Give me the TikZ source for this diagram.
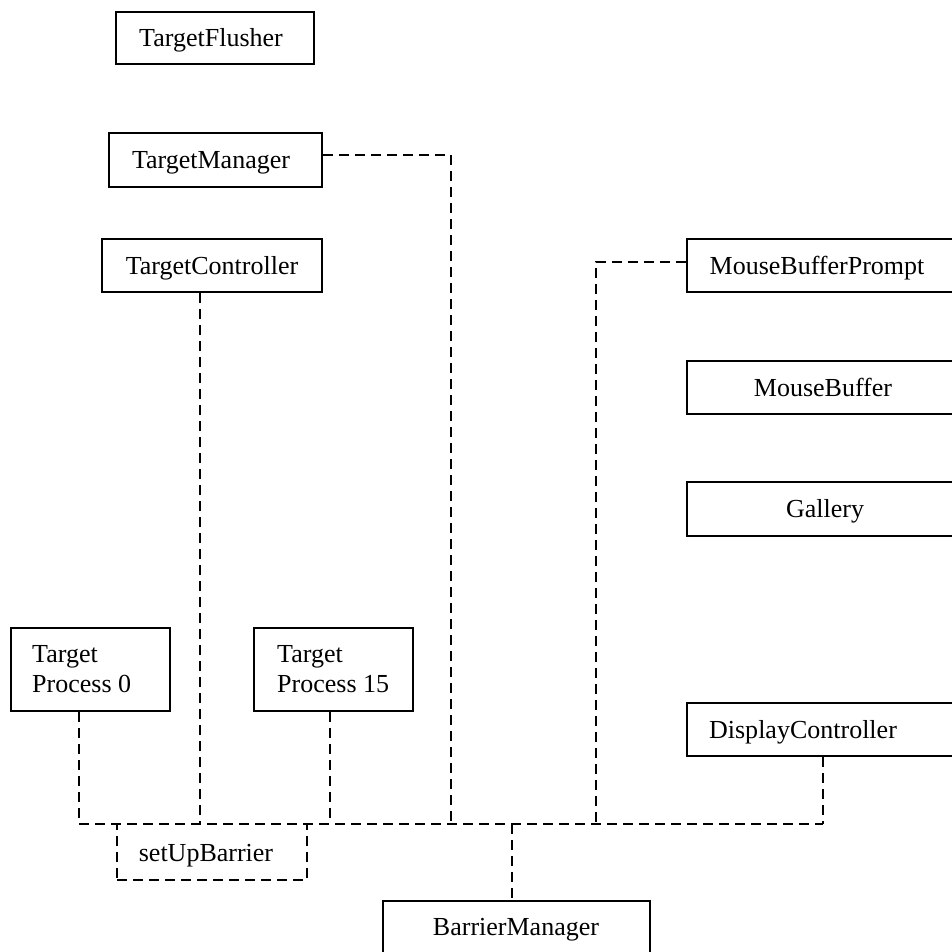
\documentclass[tikz,border=0pt]{standalone}
\usepackage{fontspec}
\setmainfont{Liberation Serif}
\begin{document}
\begin{tikzpicture}[x=1pt,y=-1pt,
  box/.style={draw=black,line width=2pt,inner sep=0pt,fill=none},
  dbox/.style={draw=black,line width=2pt,inner sep=0pt,dash pattern=on 10pt off 6pt},
  lbl/.style={anchor=base,inner sep=0pt,font=\fontsize{26}{30}\selectfont},
  lbll/.style={anchor=base west,inner sep=0pt,font=\fontsize{26}{30}\selectfont},
  conn/.style={draw=black,line width=2pt,dash pattern=on 10pt off 6pt}]
\useasboundingbox (0,0) rectangle (952,952);
% boxes
\node[box,minimum width=198pt,minimum height=52pt] (tf) at (215,38) {};
\node[box,minimum width=213pt,minimum height=54pt] (tm) at (215.5,160) {};
\node[box,minimum width=220pt,minimum height=53pt] (tc) at (212,265.5) {};
\node[box,minimum width=269pt,minimum height=53pt] (mbp) at (821.5,265.5) {};
\node[box,minimum width=269pt,minimum height=53pt] (mb) at (821.5,387.5) {};
\node[box,minimum width=269pt,minimum height=54pt] (gal) at (821.5,509) {};
\node[box,minimum width=269pt,minimum height=53pt] (dc) at (821.5,729.5) {};
\node[box,minimum width=159pt,minimum height=83pt] (tp0) at (90.5,669.5) {};
\node[box,minimum width=159pt,minimum height=83pt] (tp15) at (333.5,669.5) {};
\node[box,minimum width=267pt,minimum height=55pt] (bm) at (516.5,928.5) {};
\node[dbox,minimum width=190pt,minimum height=56pt] (sub) at (212,852) {};
% labels
\node[lbl] (tfT) at (211,46.6) {TargetFlusher};
\node[lbl] (tmT) at (211,168.6) {TargetManager};
\node[lbl] (tcT) at (212,274) {TargetController};
\node[lbl] (mbpT) at (817,274) {MouseBufferPrompt};
\node[lbl] (mbT) at (823,396) {MouseBuffer};
\node[lbl] (galT) at (825,517.6) {Gallery};
\node[lbl] (dcT) at (803,738) {DisplayController};
\node[lbll] (tp0a) at (32,662) {Target};
\node[lbll] (tp0b) at (32,692) {Process 0};
\node[lbll] (tp15a) at (277,662) {Target};
\node[lbll] (tp15b) at (277,692) {Process 15};
\node[lbl] (subT) at (206,861) {setUpBarrier};
\node[lbl] (bmT) at (516,935) {BarrierManager};
% junctions on the bus
\coordinate (j0) at (79,824);
\coordinate (jtc) at (200,824);
\coordinate (j15) at (330,824);
\coordinate (jtm) at (451,824);
\coordinate (jbm) at (512,824);
\coordinate (jmbp) at (596,824);
\coordinate (jdc) at (823,824);
\coordinate (ctm) at (451,155);
\coordinate (cmbp) at (596,262);
% connectors
\path[conn] (j0) -- (jdc);
\path[conn] (tp0.south -| j0) -- (j0);
\path[conn] (tc.south -| jtc) -- (jtc);
\path[conn] (tp15.south -| j15) -- (j15);
\path[conn] (tm.east |- ctm) -- (ctm) -- (jtm);
\path[conn] (mbp.west |- cmbp) -- (cmbp) -- (jmbp);
\path[conn] (dc.south -| jdc) -- (jdc);
\path[conn] (jbm) -- (bm.north -| jbm);
\end{tikzpicture}
\end{document}
